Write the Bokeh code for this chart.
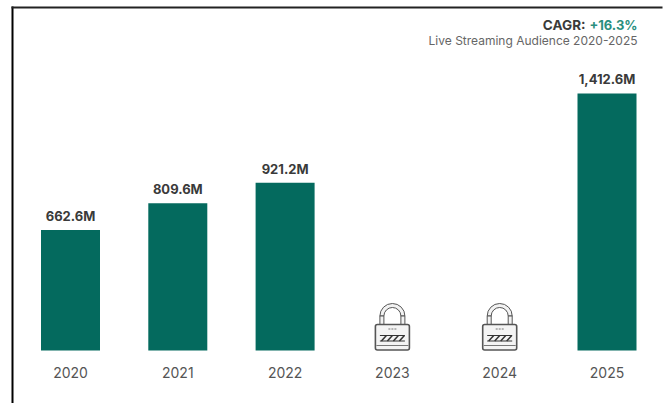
from bokeh.embed import file_html
from bokeh.resources import INLINE
from bokeh.plotting import figure
from bokeh.models import Range1d, FixedTicker, Label, PolyAnnotation, ColumnDataSource
from bokeh.core.properties import value

YEARS = ["2020", "2021", "2022", "2023", "2024", "2025"]
AUDIENCE_YEARS = [0, 1, 2, 5]
AUDIENCE = [662.6, 809.6, 921.2, 1412.6]
AUDIENCE_LABELS = ["662.6M", "809.6M", "921.2M", "1,412.6M"]
LOCKED_YEARS = [3, 4]

FONT = "Inter"
BAR = "#046a5e"
INK = "#3a3a3a"
AXIS_INK = "#555555"
TEAL = "#2a8f7e"

WIDTH, HEIGHT = 668, 403
PX_PER_SLOT = 107.3
PX_PER_M = 0.182
ORIGIN_X = 70      # canvas x of the first category
ORIGIN_Y = 350     # canvas y of the zero line

# The frame fills the canvas so the edge rules can run down to its bottom.
p = figure(width=WIDTH, height=HEIGHT, output_backend="svg", toolbar_location=None,
           frame_width=WIDTH, frame_height=HEIGHT, min_border=0,
           x_range=Range1d(-ORIGIN_X / PX_PER_SLOT, (WIDTH - ORIGIN_X) / PX_PER_SLOT),
           y_range=Range1d((ORIGIN_Y - HEIGHT) / PX_PER_M, ORIGIN_Y / PX_PER_M))
p.background_fill_color = "white"
p.border_fill_color = "white"
p.outline_line_color = None
p.grid.visible = False
p.yaxis.visible = False

ax = p.xaxis[0]
ax.fixed_location = 0
ax.ticker = FixedTicker(ticks=list(range(len(YEARS))))
ax.major_label_overrides = {i: y for i, y in enumerate(YEARS)}
ax.axis_line_color = None
ax.major_tick_line_color = None
ax.minor_tick_line_color = None
ax.major_label_standoff = 10
ax.major_label_text_font = FONT
ax.major_label_text_font_size = "14px"
ax.major_label_text_color = AXIS_INK

src = ColumnDataSource(dict(x=AUDIENCE_YEARS, top=AUDIENCE, label=AUDIENCE_LABELS))
p.vbar(x="x", top="top", bottom=0, width=59 / PX_PER_SLOT, source=src,
       fill_color=BAR, line_color=None)
p.text(x="x", y="top", text="label", source=src, y_offset=-6, text_align="center",
       text_baseline="bottom", text_font=value(FONT), text_font_size="13px",
       text_font_style="bold", text_color=INK)


def dx(px):
    return px / PX_PER_SLOT


def dy(px):
    return px / PX_PER_M


# Padlock icon for years without published figures; sizes are in pixels from the base line.
for c in LOCKED_YEARS:
    # shackle
    p.annular_wedge(x=[c], y=[dy(34.5)], inner_radius=8.5, outer_radius=12.5,
                    inner_radius_units="screen", outer_radius_units="screen",
                    start_angle=0, end_angle=3.14159, fill_color="#f2f2f2",
                    line_color="#555555", line_width=1)
    p.quad(left=[c - dx(12.5), c + dx(8.5)], right=[c - dx(8.5), c + dx(12.5)],
           bottom=[dy(26)] * 2, top=[dy(34.5)] * 2, fill_color="#f2f2f2",
           line_color="#555555", line_width=1)
    # body
    p.quad(left=[c - dx(17)], right=[c + dx(17)], bottom=[dy(0.5)], top=[dy(26)],
           fill_color="#f4f4f4", line_color="#555555", line_width=1.6,
           border_radius=2)
    # base strip
    p.segment(x0=[c - dx(16)], x1=[c + dx(16)], y0=[dy(5)], y1=[dy(5)],
              line_color="#777777", line_width=1.2)
    # keyhole dots
    p.segment(x0=[c - dx(4)], x1=[c + dx(4)], y0=[dy(21.5)], y1=[dy(21.5)],
              line_color="#777777", line_width=1.2, line_dash="2 1")
    # combination band
    p.segment(x0=[c - dx(12.5)] * 2, x1=[c + dx(12.5)] * 2, y0=[dy(9.5), dy(15)],
              y1=[dy(9.5), dy(15)], line_color="#333333", line_width=1)
    p.segment(x0=[c + dx(o) for o in (-11, -5, 1, 7)],
              x1=[c + dx(o) for o in (-6, 0, 6, 12)],
              y0=[dy(9.5)] * 4, y1=[dy(15)] * 4, line_color="#333333", line_width=1.5)


# Annotation screen units count up from the canvas's lower-left corner here.
def sy(px):
    return HEIGHT - px


# Heading above the last bar.
for text, x, y, size, style, color in [
    ("CAGR:", 585, 32, "13.5px", "bold", INK),
    ("+16.3%", 637, 32, "13px", "bold", TEAL),
    ("Live Streaming Audience 2020-2025", 637, 47, "12px", "normal", "#666666"),
]:
    p.add_layout(Label(x=x, y=sy(y), x_units="screen", y_units="screen", text=text,
                       text_align="right", text_font=FONT, text_font_size=size,
                       text_font_style=style, text_color=color))

# Frame rules along the left and top edges.
for x0, x1, y0, y1, color in [(11, 13, 6, 403, "black"), (11, 662, 6, 8, "#222222")]:
    p.add_layout(PolyAnnotation(xs=[x0, x1, x1, x0],
                                ys=[sy(y0), sy(y0), sy(y1), sy(y1)],
                                xs_units="screen", ys_units="screen",
                                fill_color=color, fill_alpha=1, line_color=None))

open("out.html", "w").write(file_html(p, INLINE))
